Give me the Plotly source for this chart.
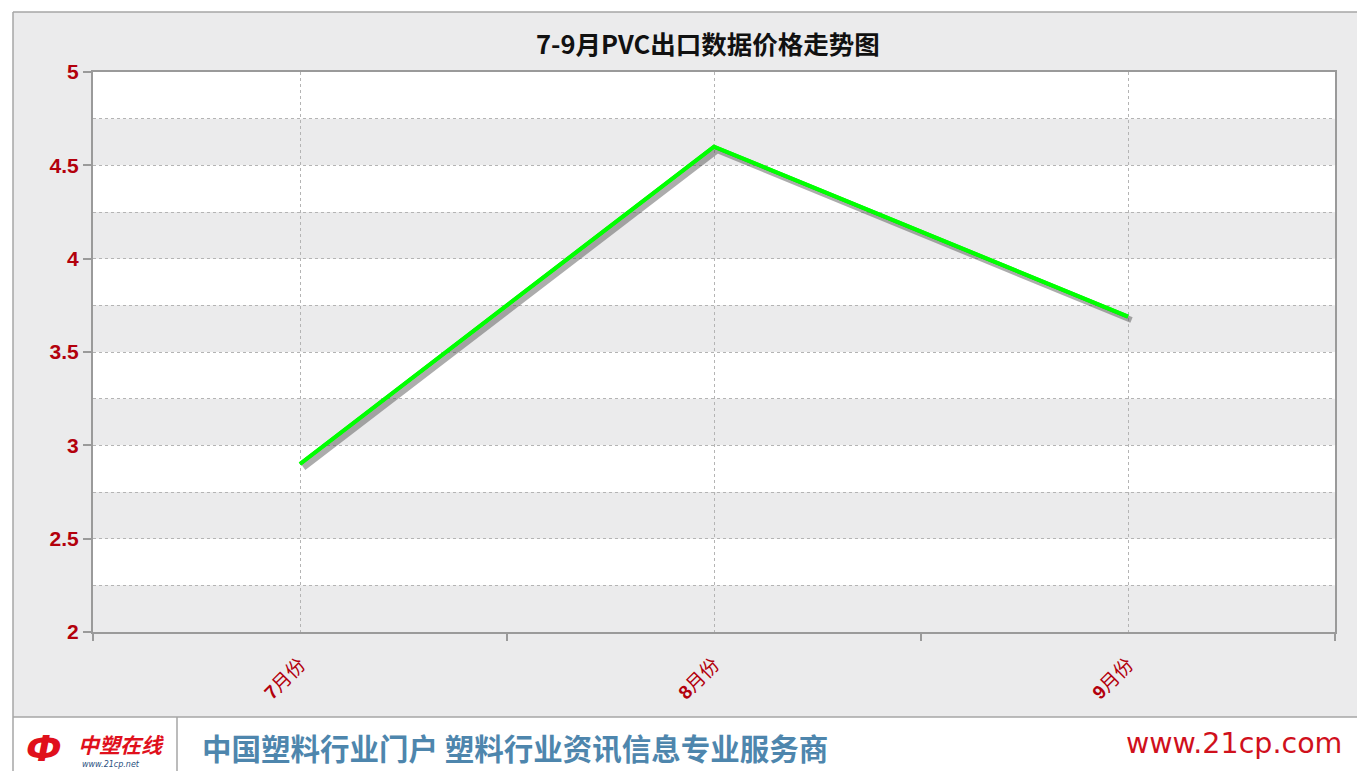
import plotly.graph_objects as go

months = ["7月份", "8月份", "9月份"]
prices = [2.9, 4.6, 3.69]
y_ticks = [2, 2.5, 3, 3.5, 4, 4.5, 5]

W, H = 1357, 771
# plot area in pixels
L, R, T, B = 93, 1335, 72, 632

RED = "#b3000c"
GRID = "#b4b4b4"
AXIS = "#9a9a9a"
FRAME = "#a6a6a6"
BG = "#ebebec"

def px_x(v):
    return v / W

def px_y(v):
    return 1 - v / H

fig = go.Figure()

# main green line (sets categories on main axes)
fig.add_trace(go.Scatter(
    x=months, y=prices, mode="lines",
    line=dict(color="#00ff00", width=4),
    showlegend=False, hoverinfo="skip"
))
# drop shadow, drawn on shifted overlay axes
fig.add_trace(go.Scatter(
    x=months, y=prices, mode="lines",
    line=dict(color="rgba(70,70,70,0.45)", width=6),
    xaxis="x2", yaxis="y2",
    showlegend=False, hoverinfo="skip"
))
# green line again on top of the shadow
fig.add_trace(go.Scatter(
    x=months, y=prices, mode="lines",
    line=dict(color="#00ff00", width=4),
    xaxis="x3", yaxis="y3",
    showlegend=False, hoverinfo="skip"
))
# dummy trace so the boundary tick axis is drawn
fig.add_trace(go.Scatter(x=[None], y=[None], xaxis="x4", yaxis="y",
                         showlegend=False, hoverinfo="skip"))

cat_w = (R - L) / 3
unit_h = (B - T) / 3
dx = 3.5 / cat_w
dy = 3.5 / unit_h

dom_x = [px_x(L), px_x(R)]
dom_y = [px_y(B), px_y(T)]

shapes = []
# white page margins around the gray frame
shapes.append(dict(type="rect", xref="paper", yref="paper",
                   x0=0, x1=1, y0=px_y(12), y1=1,
                   fillcolor="white", line=dict(width=0)))
shapes.append(dict(type="rect", xref="paper", yref="paper",
                   x0=0, x1=px_x(13), y0=0, y1=1,
                   fillcolor="white", line=dict(width=0)))
shapes.append(dict(type="rect", xref="paper", yref="paper",
                   x0=0, x1=1, y0=0, y1=px_y(717),
                   fillcolor="white", line=dict(width=0)))
# frame lines
shapes.append(dict(type="line", xref="paper", yref="paper",
                   x0=px_x(13), x1=1, y0=px_y(12), y1=px_y(12),
                   line=dict(color=FRAME, width=1.5)))
shapes.append(dict(type="line", xref="paper", yref="paper",
                   x0=px_x(13), x1=1, y0=px_y(717), y1=px_y(717),
                   line=dict(color=FRAME, width=1.5)))
shapes.append(dict(type="line", xref="paper", yref="paper",
                   x0=px_x(13), x1=px_x(13), y0=0, y1=px_y(12),
                   line=dict(color=FRAME, width=1.5)))
shapes.append(dict(type="line", xref="paper", yref="paper",
                   x0=px_x(177), x1=px_x(177), y0=0, y1=px_y(717),
                   line=dict(color=FRAME, width=1.5)))
# alternating bands every 0.25
lo = 2.0
while lo < 5.0:
    k = round((lo - 2.0) / 0.25)
    if k % 2 == 0:
        shapes.append(dict(type="rect", xref="x domain", yref="y",
                           x0=0, x1=1, y0=lo, y1=lo + 0.25,
                           fillcolor=BG, line=dict(width=0), layer="below"))
    lo += 0.25

fig.update_layout(
    width=W, height=H,
    margin=dict(l=0, r=0, t=0, b=0, autoexpand=False),
    paper_bgcolor=BG,
    plot_bgcolor="white",
    font=dict(family="Liberation Sans, Noto Sans CJK SC, sans-serif"),
    shapes=shapes,
    xaxis=dict(
        domain=dom_x, anchor="y",
        type="category", range=[-0.5, 2.5],
        tickvals=months,
        ticktext=[f"<b>{m[0]}</b>{m[1:]}" for m in months],
        showgrid=True, gridcolor=GRID, griddash="dot", gridwidth=1,
        ticks="outside", ticklen=12, tickcolor="rgba(0,0,0,0)", tickangle=-45,
        tickfont=dict(size=19, color=RED, family="Liberation Sans, Noto Sans CJK SC"),
        showline=True, linecolor=AXIS, linewidth=2, mirror=True,
        zeroline=False,
    ),
    yaxis=dict(
        domain=dom_y, anchor="x",
        range=[2, 5], tickvals=y_ticks,
        ticktext=[f"<b>{v:g}</b>" for v in y_ticks],
        showgrid=True, gridcolor=GRID, griddash="dot", gridwidth=1,
        minor=dict(dtick=0.25, showgrid=True, gridcolor=GRID, griddash="dot", gridwidth=1),
        ticks="outside", ticklen=8, tickcolor=AXIS, tickwidth=1.5,
        tickfont=dict(size=21, color=RED, family="Liberation Sans"),
        showline=True, linecolor=AXIS, linewidth=2, mirror=True,
        zeroline=False,
    ),
    xaxis2=dict(overlaying="x", anchor="y2", type="category",
                range=[-0.5 - dx, 2.5 - dx], visible=False),
    yaxis2=dict(overlaying="y", anchor="x2",
                range=[2 + dy, 5 + dy], visible=False),
    xaxis3=dict(overlaying="x", anchor="y3", type="category",
                range=[-0.5, 2.5], visible=False),
    yaxis3=dict(overlaying="y", anchor="x3",
                range=[2, 5], visible=False),
    # boundary ticks on the x axis
    xaxis4=dict(overlaying="x", anchor="y", range=[-0.5, 2.5],
                tickvals=[-0.5, 0.5, 1.5, 2.5], showticklabels=False,
                ticks="outside", ticklen=8, tickcolor=AXIS, tickwidth=1.5,
                showgrid=False, showline=False, zeroline=False, side="bottom"),
    showlegend=False,
)

def note(text, x, y, size, color, family, xanchor="center"):
    return dict(text=text, xref="paper", yref="paper",
                x=px_x(x), y=px_y(y), xanchor=xanchor, yanchor="middle",
                showarrow=False, font=dict(size=size, color=color, family=family))

annotations = [
    note("<b>7-9月PVC出口数据价格走势图</b>", 708, 42, 25.5, "#111111", "Noto Sans CJK SC"),
    note("<b>中国塑料行业门户 塑料行业资讯信息专业服务商</b>", 200, 747, 29.5, "#4e86ad",
         "Noto Sans CJK SC", "left"),
    note("www.21cp.com", 1344, 743, 28.5, "#d0101c", "DejaVu Sans", "right"),
    note("<b><i>中塑在线</i></b>", 76, 744, 21, "#e0101c", "Noto Sans CJK SC", "left"),
    note("<i>www.21cp.net</i>", 80, 764, 8, "#2a4f80", "DejaVu Sans", "left"),
    note("<b><i>Ф</i></b>", 44, 748, 36, "#e0101c", "DejaVu Sans"),
]
fig.update_layout(annotations=annotations)

fig.write_html(
    "out.html",
    config={"displayModeBar": False},
    post_script=(
        "document.documentElement.style.margin='0';"
        "document.body.style.margin='0';"
        "document.body.style.overflow='hidden';"
        "document.documentElement.style.overflow='hidden';"
    ),
)
